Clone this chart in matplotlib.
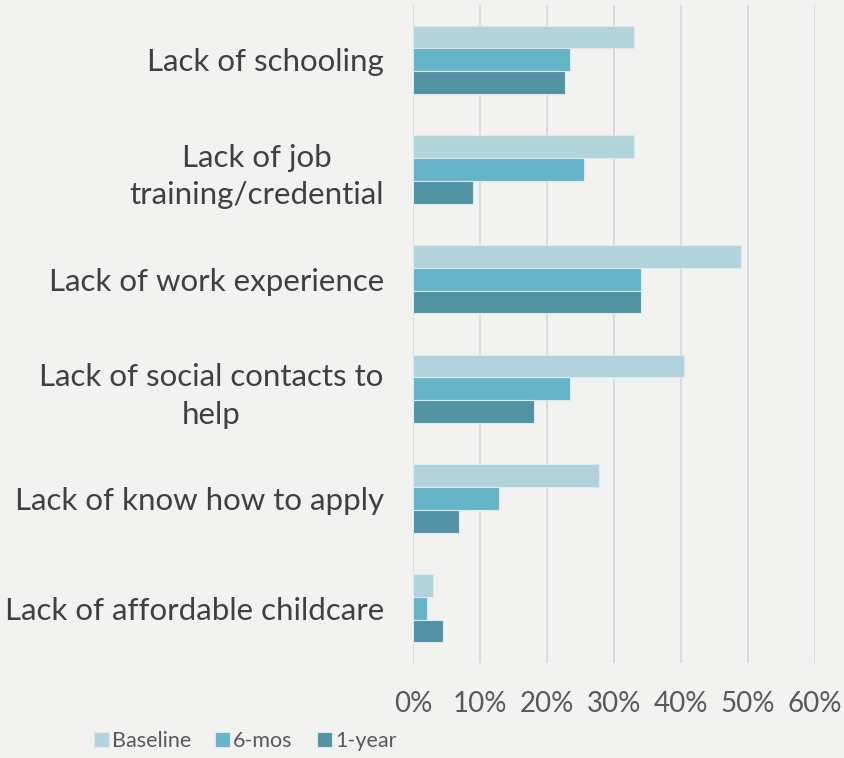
import numpy as np
import matplotlib.pyplot as plt

# data
categories = ['Lack of schooling', 'Lack of job\ntraining/credential', 'Lack of work experience',
              'Lack of social contacts to\nhelp', 'Lack of know how to apply',
              'Lack of affordable childcare']
baseline = [33.0, 33.0, 49.0, 40.5, 27.8, 3.0]
six_mos = [23.4, 25.5, 34.0, 23.4, 12.8, 2.1]
one_year = [22.7, 9.0, 34.1, 18.1, 6.8, 4.5]
series_names = ['Baseline', '6-mos', '1-year']
colors = ['#b2d3dc', '#65b4c8', '#5193a3']
xticks = [0, 10, 20, 30, 40, 50, 60]

plt.rcParams['font.family'] = ['Lato', 'DejaVu Sans']
bg = '#f2f2f0'

fig = plt.figure(figsize=(8.45, 7.58), dpi=100, facecolor=bg)
ax = fig.add_axes([0.4888, 0.1253, 0.4757, 0.8681], facecolor=bg)

y = np.arange(len(categories))
h = 0.207
for i, (vals, name, col) in enumerate(zip([baseline, six_mos, one_year], series_names, colors)):
    ax.barh(y - h + i * h, vals, height=h, color=col, edgecolor='#dfe9ec', linewidth=0.8,
            label=name, zorder=3)

ax.set_ylim(len(categories) - 0.5, -0.5)
ax.set_xlim(0, 60)
ax.set_yticks(y)
ax.set_yticklabels(categories, fontsize=22.5, color='#404040', multialignment='center',
                   linespacing=1.4)
ax.set_xticks(xticks)
ax.set_xticklabels([f'{t}%' for t in xticks], fontsize=20, color='#595959')
ax.tick_params(axis='y', length=0, pad=21)
ax.tick_params(axis='x', length=0, pad=20)
ax.grid(axis='x', color='#d9d9d9', linewidth=1.3, zorder=0)
for s in ax.spines.values():
    s.set_visible(False)

fig.legend(loc='center', bbox_to_anchor=(0.29, 0.022), ncol=3, frameon=False,
           fontsize=15.5, handlelength=0.7, handleheight=0.7, handletextpad=0.15,
           columnspacing=1.1, labelcolor='#595959')

fig.savefig('out.png', dpi=100, facecolor=bg)
